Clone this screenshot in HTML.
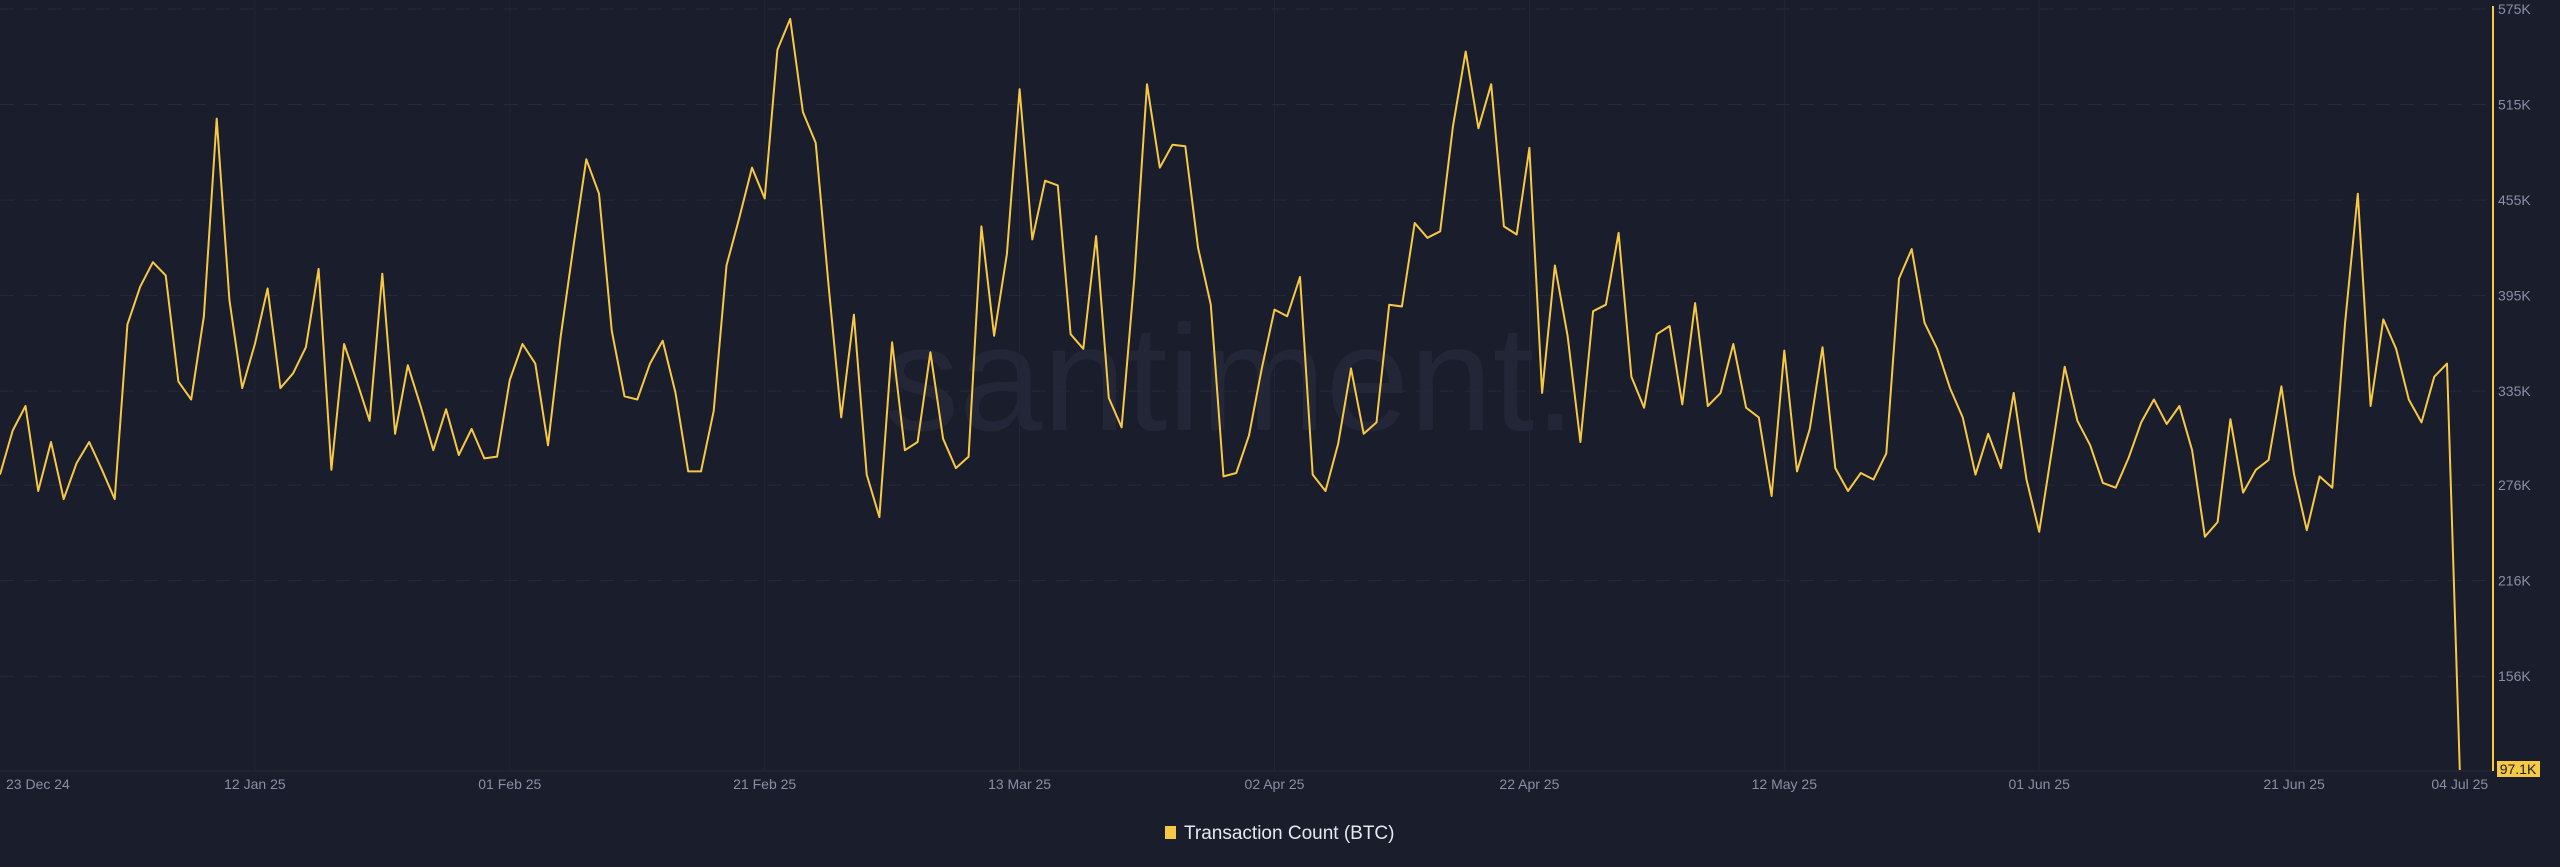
<!DOCTYPE html>
<html><head><meta charset="utf-8"><style>
html,body{margin:0;padding:0;background:#1a1d2b;}
svg{display:block;font-family:"Liberation Sans",sans-serif;}
</style></head><body>
<svg id="chart" width="2560" height="867" viewBox="0 0 2560 867">
<rect x="0" y="0" width="2560" height="867" fill="#1a1d2b"/>
<text x="1230" y="430" font-size="150" fill="#222637" text-anchor="middle">santiment.</text>
<g id="grid"></g><g id="axes"></g><g id="series"></g>
<g>
<rect x="1165" y="826" width="11" height="13" fill="#f7c843"/>
<text x="1184" y="839" font-size="19" fill="#e6e8ee">Transaction Count (BTC)</text>
</g>
</svg>
<script>
const values = [282.6,310.3,325.7,272.3,303.1,267.2,289.7,303.1,285.6,267.2,376.9,400.6,416,407.7,341,329.8,382.1,506.2,392.3,336.9,364.6,399.5,336.9,346.2,362.6,411.8,285.6,364.6,341,316.4,408.8,308.2,351.3,325.7,297.9,323.6,294.9,311.3,292.8,293.9,342.1,364.6,352.3,301,369.8,426.2,480.6,459,372.8,331.8,329.8,352.3,366.7,333.9,284.6,284.6,322.6,413.9,443.6,475.4,456,549.3,568.8,510.3,490.9,402.6,318.5,383.1,282.6,255.9,365.7,297.9,303.1,359.5,305.1,286.7,293.9,438.5,369.8,421.1,524.7,430.3,467.2,464.2,370.8,361.6,432.4,330.8,312.3,405.7,527.8,475.4,489.8,488.8,425.2,389.3,281.5,283.6,307.2,349.3,386.2,382.1,406.7,282.6,272.3,302.1,349.3,308.2,315.4,389.3,388.2,440.6,431.3,435.4,501.1,548.3,500.1,527.8,438.5,433.4,487.8,333.9,413.9,369.8,303.1,385.2,389.3,434.4,344.1,324.6,370.8,375.9,326.7,390.3,325.7,333.9,364.6,324.6,318.5,269.2,360.5,284.6,311.3,362.6,286.7,272.3,283.6,279.5,295.9,405.7,424.2,378,361.6,336.9,318.5,282.6,308.2,286.7,333.9,279.5,246.7,297.9,350.3,316.4,301,277.4,274.4,292.8,315.4,329.8,314.4,325.7,297.9,243.6,252.8,317.4,271.3,285.6,291.8,338,282.6,247.7,281.5,274.4,378,459,325.7,380.1,361.6,329.8,315.4,344.1,352.3,97.1];
const yTicks = [575,515,455,395,335,276,216,156];
const yTickLabels = ["575K","515K","455K","395K","335K","276K","216K","156K"];
const xTickIdx = [0,20,40,60,80,100,120,140,160,180,193];
const xTickLabels = ["23 Dec 24","12 Jan 25","01 Feb 25","21 Feb 25","13 Mar 25","02 Apr 25","22 Apr 25","12 May 25","01 Jun 25","21 Jun 25","04 Jul 25"];
const yMin = 97.1, yMax = 575;
const NS = "http://www.w3.org/2000/svg";
function X(i){ return i * 12.745; }
function Y(v){ return 9 + (yMax - v) * (761 / (yMax - yMin)); }
function mk(tag, attrs, parent){ const e=document.createElementNS(NS,tag); for(const k in attrs) e.setAttribute(k,attrs[k]); parent.appendChild(e); return e; }
const grid=document.getElementById('grid'), axes=document.getElementById('axes'), series=document.getElementById('series');
yTicks.forEach((v,k)=>{
  const l=mk('line',{x1:0,x2:2492,y1:Y(v),y2:Y(v),stroke:'#262a3a','stroke-width':1,'stroke-dasharray':'14 10'},grid);
  
  
  const t=mk('text',{x:2498,y:Y(v)+5,'font-size':14,fill:'#8a8fa3'},axes);
  t.textContent=yTickLabels[k];
  
  
});
xTickIdx.forEach((i,k)=>{
  if(k>0 && k<xTickIdx.length-1){
    const l=mk('line',{x1:X(i),x2:X(i),y1:0,y2:770,stroke:'#212536','stroke-width':1},grid);
    
    
  }
  const t=mk('text',{x:k===0?6:X(i),y:789,'font-size':14,fill:'#8a8fa3','text-anchor':k===0?'start':'middle'},axes);
  t.textContent=xTickLabels[k];
  
  
});
const base=mk('line',{x1:0,x2:2492,y1:771,y2:771,stroke:'#262a3a','stroke-width':1},axes);


const vl=mk('line',{x1:2493,x2:2493,y1:6,y2:771,stroke:'#f7c843','stroke-width':2},axes);


const p=mk('polyline',{points:values.map((v,i)=>X(i).toFixed(1)+','+Y(v).toFixed(1)).join(' '),fill:'none',stroke:'#f7c843','stroke-width':2,'stroke-linejoin':'round'},series);


const last=values[values.length-1];
const bx=mk('rect',{x:2497,y:Y(last)-9,width:43,height:16,fill:'#f7c843'},axes);


const bt=mk('text',{x:2518,y:Y(last)+4,'font-size':14,fill:'#1a1d2b','text-anchor':'middle'},axes);
bt.textContent=last.toFixed(1)+'K';


</script>
</body></html>
